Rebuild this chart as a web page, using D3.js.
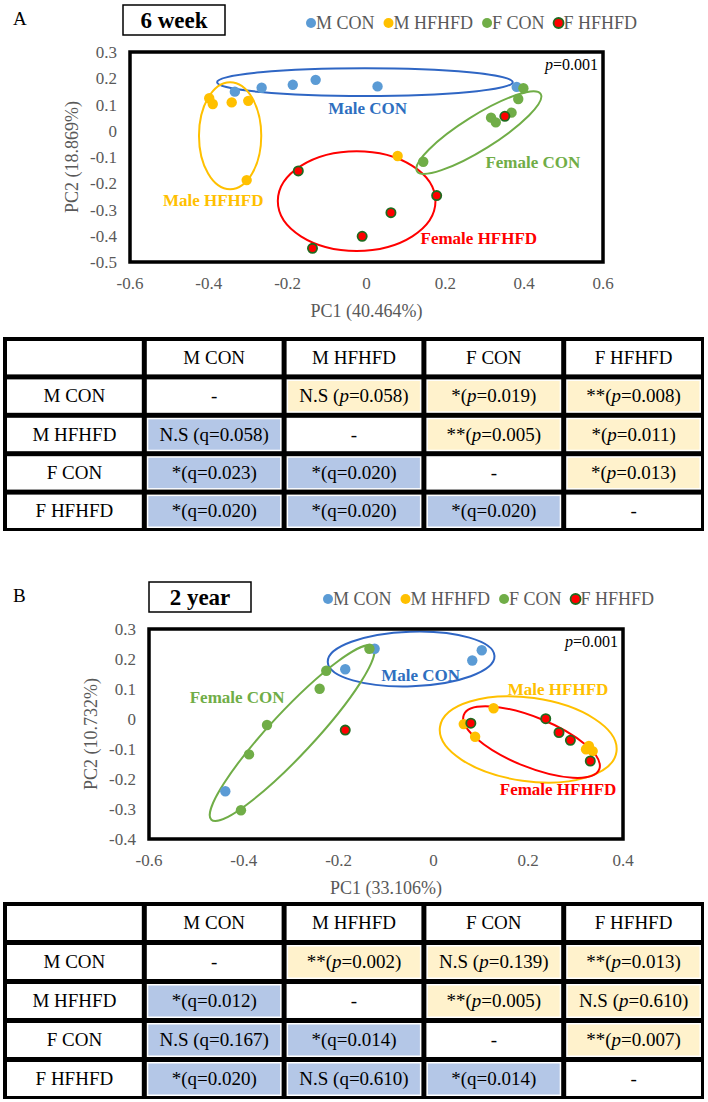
<!DOCTYPE html>
<html>
<head>
<meta charset="utf-8">
<script src="https://cdn.jsdelivr.net/npm/d3@7"></script>
<style>
  body { margin: 0; background: #fff; }
  svg { display: block; }
</style>
</head>
<body>
<div id="chart"></div>
<script>
const W = 708, H = 1102;
const groups = ["M CON", "M HFHFD", "F CON", "F HFHFD"];
const fills = { "M CON": "#5b9bd5", "M HFHFD": "#ffc000", "F CON": "#70ad47", "F HFHFD": "#ff0000" };

// panel A (6 week) points
const mConA = [[-0.334, 0.149], [-0.266, 0.164], [-0.187, 0.175], [-0.129, 0.194], [0.028, 0.169], [0.381, 0.167]];
const mHfA = [[-0.399, 0.124], [-0.390, 0.102], [-0.342, 0.108], [-0.300, 0.114], [-0.304, -0.188], [0.079, -0.096]];
const fConA = [[0.398, 0.162], [0.385, 0.121], [0.368, 0.069], [0.316, 0.050], [0.328, 0.032], [0.144, -0.118]];
const fHfA = [[-0.173, -0.153], [-0.137, -0.448], [-0.011, -0.402], [0.351, 0.055], [0.178, -0.247], [0.062, -0.312]];

// panel B (2 year)
const mConB = [[-0.186, 0.166], [-0.439, -0.241], [-0.124, 0.234], [0.102, 0.229], [0.082, 0.195]];
const mHfB = [[0.064, -0.017], [0.127, 0.036], [0.088, -0.059], [0.322, -0.101], [0.336, -0.107], [0.328, -0.090]];
const fConB = [[-0.226, 0.161], [-0.240, 0.101], [-0.351, -0.020], [-0.389, -0.118], [-0.406, -0.304], [-0.135, 0.234]];
const fHfB = [[-0.186, -0.037], [0.079, -0.014], [0.237, 0.001], [0.265, -0.045], [0.289, -0.071], [0.331, -0.140]];

const xTicksA = [-0.6, -0.4, -0.2, 0, 0.2, 0.4, 0.6];
const yTicksA = [0.3, 0.2, 0.1, 0, -0.1, -0.2, -0.3, -0.4, -0.5];
const xTicksB = [-0.6, -0.4, -0.2, 0, 0.2, 0.4];
const yTicksB = [0.3, 0.2, 0.1, 0, -0.1, -0.2, -0.3, -0.4];

// cluster ellipses: centre, semi-axes (data units), rotation in degrees
const ellipsesA = [
  { g: "M CON", cx: -0.004, cy: 0.185, rx: 0.375, ry: 0.053, a: 0 },
  { g: "M HFHFD", cx: -0.346, cy: -0.019, rx: 0.079, ry: 0.204, a: 0 },
  { g: "F HFHFD", cx: -0.025, cy: -0.268, rx: 0.200, ry: 0.190, a: 0 },
  { g: "F CON", cx: 0.285, cy: -0.007, rx: 0.185, ry: 0.065, a: -32 }
];
const ellipsesB = [
  { g: "M CON", cx: -0.047, cy: 0.200, rx: 0.176, ry: 0.091, a: -2 },
  { g: "F CON", cx: -0.298, cy: -0.047, rx: 0.250, ry: 0.073, a: -47 },
  { g: "M HFHFD", cx: 0.200, cy: -0.068, rx: 0.188, ry: 0.139, a: 8 },
  { g: "F HFHFD", cx: 0.207, cy: -0.077, rx: 0.154, ry: 0.083, a: 22 }
];
const labelsA = [
  { g: "M CON", t: "Male CON", x: 0.003, y: 0.087 },
  { g: "M HFHFD", t: "Male HFHFD", x: -0.389, y: -0.264 },
  { g: "F CON", t: "Female CON", x: 0.422, y: -0.119 },
  { g: "F HFHFD", t: "Female HFHFD", x: 0.285, y: -0.409 }
];
const labelsB = [
  { g: "F CON", t: "Female CON", x: -0.414, y: 0.073 },
  { g: "M CON", t: "Male CON", x: -0.027, y: 0.147 },
  { g: "M HFHFD", t: "Male HFHFD", x: 0.263, y: 0.101 },
  { g: "F HFHFD", t: "Female HFHFD", x: 0.263, y: -0.234 }
];
const lineColors = { "M CON": "#2f66c4", "M HFHFD": "#ffc000", "F CON": "#70ad47", "F HFHFD": "#ff0000" };
const labelColors = { "M CON": "#2e6fbf", "M HFHFD": "#ffc000", "F CON": "#70ad47", "F HFHFD": "#ff0000" };

const tableA = [
  ["-", "N.S (p=0.058)", "*(p=0.019)", "**(p=0.008)"],
  ["N.S (q=0.058)", "-", "**(p=0.005)", "*(p=0.011)"],
  ["*(q=0.023)", "*(q=0.020)", "-", "*(p=0.013)"],
  ["*(q=0.020)", "*(q=0.020)", "*(q=0.020)", "-"]
];
const tableB = [
  ["-", "**(p=0.002)", "N.S (p=0.139)", "**(p=0.013)"],
  ["*(q=0.012)", "-", "**(p=0.005)", "N.S (p=0.610)"],
  ["N.S (q=0.167)", "*(q=0.014)", "-", "**(p=0.007)"],
  ["*(q=0.020)", "N.S (q=0.610)", "*(q=0.014)", "-"]
];

const svg = d3.select("#chart").append("svg").attr("width", W).attr("height", H)
  .attr("font-family", "'Liberation Serif', 'Times New Roman', 'DejaVu Serif', serif")
  .style("font-family", "'Liberation Serif', 'Times New Roman', 'DejaVu Serif', serif");
const gray = "#595959";

function drawPanel(o) {
  const g = svg.append("g");
  g.append("text").attr("x", 13).attr("y", o.top + 20).attr("font-size", 19).text(o.letter);
  g.append("rect").attr("x", o.boxX).attr("y", o.top).attr("width", 102).attr("height", 30)
    .attr("fill", "#fff").attr("stroke", "#000").attr("stroke-width", 1.5);
  g.append("text").attr("x", o.boxX + 51).attr("y", o.top + 23).attr("text-anchor", "middle")
    .attr("font-size", 23).attr("font-weight", "bold").text(o.title);

  // legend
  let lx = o.legX;
  groups.forEach((k) => {
    g.append("circle").attr("cx", lx).attr("cy", o.legY).attr("r", 5).attr("fill", fills[k])
      .attr("stroke", k === "F HFHFD" ? "#1f6a1f" : "none").attr("stroke-width", 1.8);
    const t = g.append("text").attr("x", lx + 5).attr("y", o.legY + 6).attr("font-size", 18)
      .attr("fill", gray).text(k);
    lx += 5 + t.node().getComputedTextLength() + 14;
  });

  const x = d3.scaleLinear().domain(o.xDom).range([o.x0, o.x1]);
  const y = d3.scaleLinear().domain(o.yDom).range([o.y1, o.y0]);

  g.append("rect").attr("x", o.x0).attr("y", o.y0).attr("width", o.x1 - o.x0).attr("height", o.y1 - o.y0)
    .attr("fill", "#fff");

  g.selectAll(".yt").data(o.yTicks).join("text").attr("x", o.x0 - 13).attr("y", (d) => y(d) + 6)
    .attr("text-anchor", "end").attr("font-size", 17).attr("fill", gray).text((d) => String(+d.toFixed(1)));
  g.selectAll(".xt").data(o.xTicks).join("text").attr("x", (d) => x(d)).attr("y", o.y1 + 27)
    .attr("text-anchor", "middle").attr("font-size", 17).attr("fill", gray).text((d) => String(+d.toFixed(1)));
  g.append("text").attr("x", (o.x0 + o.x1) / 2).attr("y", o.y1 + 55).attr("text-anchor", "middle")
    .attr("font-size", 18).attr("fill", gray).text(o.xTitle);
  g.append("text").attr("transform", `translate(${o.yTitleX},${(o.y0 + o.y1) / 2}) rotate(-90)`)
    .attr("text-anchor", "middle").attr("font-size", 18).attr("fill", gray).text(o.yTitle);

  const kx = x(1) - x(0), ky = y(0) - y(1);
  g.selectAll(".ell").data(o.ellipses).join("ellipse")
    .attr("transform", (d) => `translate(${x(d.cx)},${y(d.cy)}) rotate(${d.a})`)
    .attr("rx", (d) => d.rx * kx).attr("ry", (d) => d.ry * ky)
    .attr("fill", "none").attr("stroke", (d) => lineColors[d.g]).attr("stroke-width", 2);

  o.series.forEach((pts, i) => {
    const k = groups[i];
    g.append("g").selectAll("circle").data(pts).join("circle")
      .attr("cx", (d) => x(d[0])).attr("cy", (d) => y(d[1]))
      .attr("r", k === "F HFHFD" ? 4.6 : 5.2).attr("fill", fills[k])
      .attr("stroke", k === "F HFHFD" ? "#1f6a1f" : "none").attr("stroke-width", 1.8);
  });

  g.selectAll(".lab").data(o.labels).join("text")
    .attr("x", (d) => x(d.x)).attr("y", (d) => y(d.y)).attr("dy", "0.35em")
    .attr("text-anchor", "middle").attr("font-size", 17).attr("font-weight", "bold")
    .attr("fill", (d) => labelColors[d.g]).text((d) => d.t);

  const p = g.append("text").attr("x", o.x1 - 5).attr("y", o.y0 + 18).attr("text-anchor", "end")
    .attr("font-size", 16);
  p.append("tspan").attr("font-style", "italic").text("p");
  p.append("tspan").text("=0.001");

  g.append("rect").attr("x", o.x0).attr("y", o.y0).attr("width", o.x1 - o.x0).attr("height", o.y1 - o.y0)
    .attr("fill", "none").attr("stroke", "#000").attr("stroke-width", 3.5);
}

function cellText(sel, s) {
  const m = s.match(/^(.*\()p(=.*)$/);
  if (m) {
    sel.append("tspan").text(m[1]);
    sel.append("tspan").attr("font-style", "italic").text("p");
    sel.append("tspan").text(m[2]);
  } else sel.text(s);
}

function drawTable(top, bottom, cells) {
  const g = svg.append("g");
  const cols = d3.scaleBand().domain(d3.range(5)).range([4, 703]);
  const rows = d3.scaleBand().domain(d3.range(5)).range([top, bottom]);
  g.append("rect").attr("x", 3).attr("y", top - 1).attr("width", 701).attr("height", bottom - top + 2).attr("fill", "#000");
  for (let r = 0; r < 5; r++) {
    for (let c = 0; c < 5; c++) {
      const cx = cols(c) + 3, cy = rows(r) + 3, cw = cols.bandwidth() - 5, ch = rows.bandwidth() - 5;
      g.append("rect").attr("x", cx).attr("y", cy).attr("width", cw).attr("height", ch).attr("fill", "#fff");
      let txt = "";
      let fill = null;
      if (r === 0 && c > 0) txt = groups[c - 1];
      else if (c === 0 && r > 0) txt = groups[r - 1];
      else if (r > 0 && c > 0) {
        txt = cells[r - 1][c - 1];
        if (c > r) fill = "#fff2cc";
        else if (c < r) fill = "#b4c7e7";
      }
      if (fill) g.append("rect").attr("x", cx + 1.5).attr("y", cy + 1.5).attr("width", cw - 3).attr("height", ch - 3).attr("fill", fill);
      const t = g.append("text").attr("x", cx + cw / 2).attr("y", cy + ch / 2 + 6)
        .attr("text-anchor", "middle").attr("font-size", 19).attr("fill", "#000");
      cellText(t, txt);
    }
  }
}

drawPanel({
  letter: "A", title: "6 week", top: 5, boxX: 123, legX: 311, legY: 23,
  x0: 130, x1: 603, y0: 52, y1: 262, xDom: [-0.6, 0.6], yDom: [-0.5, 0.3],
  xTicks: xTicksA, yTicks: yTicksA, xTitle: "PC1 (40.464%)", yTitle: "PC2 (18.869%)", yTitleX: 78,
  ellipses: ellipsesA, labels: labelsA, series: [mConA, mHfA, fConA, fHfA]
});
drawTable(338, 530, tableA);

drawPanel({
  letter: "B", title: "2 year", top: 582, boxX: 149, legX: 328, legY: 599,
  x0: 149, x1: 623, y0: 629, y1: 839, xDom: [-0.6, 0.4], yDom: [-0.4, 0.3],
  xTicks: xTicksB, yTicks: yTicksB, xTitle: "PC1 (33.106%)", yTitle: "PC2 (10.732%)", yTitleX: 97,
  ellipses: ellipsesB, labels: labelsB, series: [mConB, mHfB, fConB, fHfB]
});
drawTable(903, 1098, tableB);
</script>
</body>
</html>
